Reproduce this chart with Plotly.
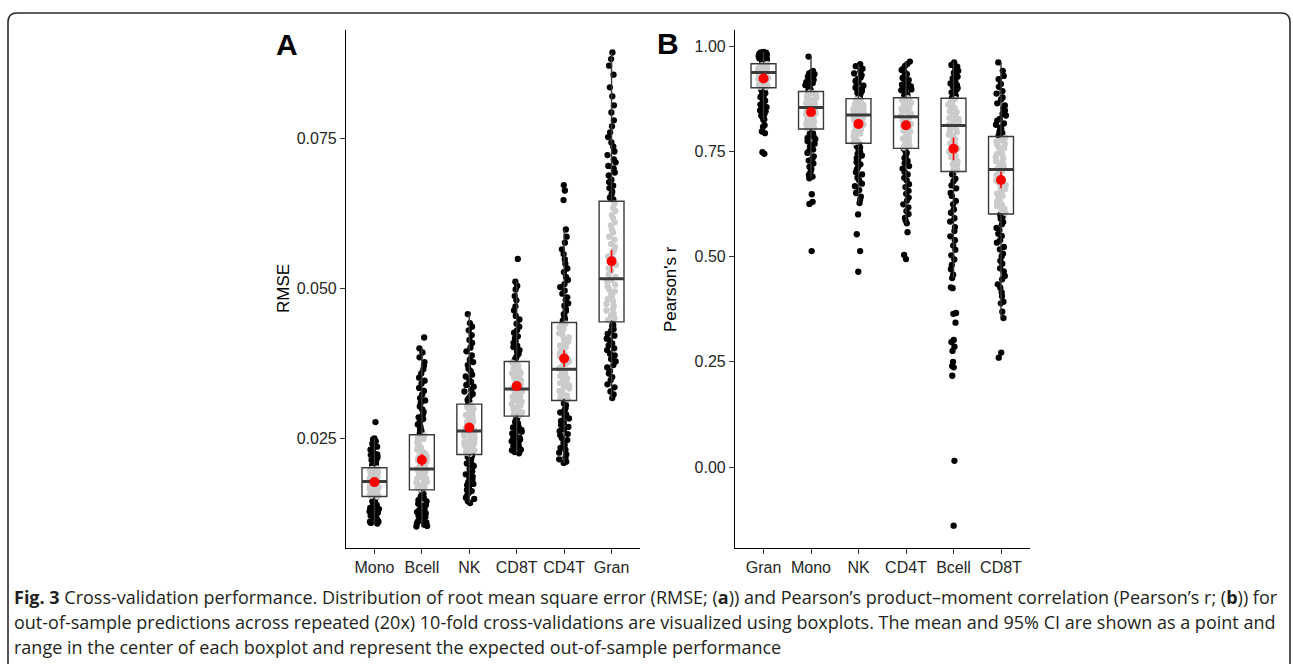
import plotly.graph_objects as go

W, H = 1293, 664

# ---------------- Panel A : RMSE ----------------
cats_a = ["Mono", "Bcell", "NK", "CD8T", "CD4T", "Gran"]
q1_a = [0.0153, 0.0164, 0.0223, 0.0287, 0.0313, 0.0444]
med_a = [0.0178, 0.0199, 0.0262, 0.0332, 0.0365, 0.0516]
q3_a = [0.0201, 0.0256, 0.0307, 0.0378, 0.0443, 0.0645]
lo_a = [0.0108, 0.0103, 0.0142, 0.0225, 0.0209, 0.0317]
hi_a = [0.0250, 0.0400, 0.0457, 0.0511, 0.0598, 0.0893]
mean_a = [0.0177, 0.0214, 0.0268, 0.0337, 0.0383, 0.0545]
ci_a = [0.0003, 0.0010, 0.0007, 0.0007, 0.0014, 0.0019]

mono_a = [0.0108, 0.0109, 0.0111, 0.0111, 0.0113, 0.0115, 0.0116, 0.0119, 0.0120, 0.0121, 0.0123,
          0.0125, 0.0126, 0.0128, 0.0129, 0.0132, 0.0133, 0.0134, 0.0137, 0.0138, 0.0139, 0.0142,
          0.0143, 0.0145, 0.0146, 0.0148, 0.0150, 0.0152, 0.0153, 0.0154, 0.0154, 0.0156, 0.0157,
          0.0158, 0.0158, 0.0160, 0.0161, 0.0163, 0.0163, 0.0164, 0.0165, 0.0166, 0.0168, 0.0169,
          0.0170, 0.0170, 0.0172, 0.0173, 0.0174, 0.0175, 0.0176, 0.0176, 0.0177, 0.0178, 0.0179,
          0.0180, 0.0182, 0.0182, 0.0183, 0.0184, 0.0186, 0.0186, 0.0187, 0.0189, 0.0189, 0.0190,
          0.0192, 0.0193, 0.0194, 0.0195, 0.0196, 0.0198, 0.0199, 0.0200, 0.0202, 0.0203, 0.0205,
          0.0206, 0.0208, 0.0210, 0.0211, 0.0214, 0.0215, 0.0217, 0.0219, 0.0222, 0.0223, 0.0225,
          0.0228, 0.0231, 0.0233, 0.0236, 0.0239, 0.0241, 0.0245, 0.0248, 0.0250, 0.0277]
bcell_a = [0.0103, 0.0104, 0.0106, 0.0108, 0.0110, 0.0111, 0.0113, 0.0116, 0.0117, 0.0119, 0.0121,
           0.0124, 0.0125, 0.0127, 0.0130, 0.0132, 0.0134, 0.0137, 0.0139, 0.0141, 0.0145, 0.0147,
           0.0150, 0.0153, 0.0157, 0.0159, 0.0162, 0.0165, 0.0167, 0.0168, 0.0171, 0.0172, 0.0174,
           0.0176, 0.0177, 0.0179, 0.0182, 0.0183, 0.0184, 0.0187, 0.0188, 0.0190, 0.0193, 0.0194,
           0.0196, 0.0198, 0.0199, 0.0201, 0.0204, 0.0205, 0.0208, 0.0210, 0.0213, 0.0214, 0.0217,
           0.0220, 0.0221, 0.0224, 0.0227, 0.0228, 0.0231, 0.0234, 0.0236, 0.0238, 0.0242, 0.0243,
           0.0246, 0.0249, 0.0251, 0.0253, 0.0255, 0.0258, 0.0262, 0.0264, 0.0267, 0.0271, 0.0273,
           0.0277, 0.0282, 0.0285, 0.0289, 0.0294, 0.0298, 0.0303, 0.0309, 0.0313, 0.0317, 0.0323,
           0.0329, 0.0334, 0.0341, 0.0346, 0.0351, 0.0358, 0.0365, 0.0371, 0.0377, 0.0385, 0.0393,
           0.0400, 0.0418]
nk_a = [0.0142, 0.0145, 0.0149, 0.0151, 0.0155, 0.0159, 0.0162, 0.0164, 0.0168, 0.0172, 0.0174,
        0.0177, 0.0181, 0.0183, 0.0186, 0.0190, 0.0192, 0.0195, 0.0199, 0.0201, 0.0204, 0.0208,
        0.0210, 0.0213, 0.0216, 0.0219, 0.0221, 0.0224, 0.0226, 0.0229, 0.0230, 0.0232, 0.0235,
        0.0236, 0.0238, 0.0240, 0.0242, 0.0243, 0.0245, 0.0248, 0.0249, 0.0250, 0.0253, 0.0254,
        0.0256, 0.0258, 0.0260, 0.0261, 0.0263, 0.0266, 0.0267, 0.0268, 0.0271, 0.0272, 0.0274,
        0.0277, 0.0278, 0.0280, 0.0283, 0.0284, 0.0286, 0.0289, 0.0290, 0.0292, 0.0295, 0.0297,
        0.0299, 0.0302, 0.0303, 0.0305, 0.0308, 0.0312, 0.0314, 0.0317, 0.0321, 0.0324, 0.0328,
        0.0331, 0.0336, 0.0339, 0.0344, 0.0347, 0.0353, 0.0356, 0.0362, 0.0366, 0.0372, 0.0377,
        0.0381, 0.0388, 0.0395, 0.0401, 0.0409, 0.0414, 0.0422, 0.0430, 0.0436, 0.0442, 0.0457]
cd8t_a = [0.0225, 0.0227, 0.0230, 0.0231, 0.0233, 0.0236, 0.0237, 0.0239, 0.0242, 0.0243, 0.0245,
          0.0248, 0.0249, 0.0251, 0.0254, 0.0255, 0.0258, 0.0261, 0.0262, 0.0264, 0.0268, 0.0269,
          0.0272, 0.0275, 0.0277, 0.0280, 0.0283, 0.0286, 0.0289, 0.0290, 0.0293, 0.0295, 0.0296,
          0.0299, 0.0301, 0.0302, 0.0305, 0.0307, 0.0308, 0.0311, 0.0313, 0.0314, 0.0317, 0.0319,
          0.0320, 0.0323, 0.0325, 0.0327, 0.0328, 0.0331, 0.0333, 0.0334, 0.0337, 0.0339, 0.0341,
          0.0342, 0.0345, 0.0347, 0.0349, 0.0350, 0.0353, 0.0355, 0.0358, 0.0359, 0.0362, 0.0364,
          0.0367, 0.0368, 0.0371, 0.0374, 0.0376, 0.0380, 0.0383, 0.0385, 0.0389, 0.0391, 0.0395,
          0.0397, 0.0402, 0.0404, 0.0409, 0.0412, 0.0417, 0.0420, 0.0426, 0.0430, 0.0436, 0.0441,
          0.0448, 0.0454, 0.0463, 0.0470, 0.0480, 0.0487, 0.0498, 0.0504, 0.0511, 0.0549]
cd4t_a = [0.0209, 0.0211, 0.0215, 0.0218, 0.0223, 0.0226, 0.0231, 0.0234, 0.0239, 0.0242, 0.0247,
          0.0250, 0.0255, 0.0257, 0.0262, 0.0265, 0.0269, 0.0272, 0.0276, 0.0279, 0.0283, 0.0286,
          0.0290, 0.0293, 0.0297, 0.0300, 0.0305, 0.0308, 0.0312, 0.0315, 0.0317, 0.0321, 0.0323,
          0.0327, 0.0329, 0.0333, 0.0336, 0.0338, 0.0342, 0.0344, 0.0348, 0.0350, 0.0354, 0.0357,
          0.0359, 0.0363, 0.0366, 0.0368, 0.0372, 0.0374, 0.0378, 0.0381, 0.0383, 0.0387, 0.0390,
          0.0392, 0.0396, 0.0399, 0.0402, 0.0405, 0.0409, 0.0411, 0.0415, 0.0418, 0.0422, 0.0425,
          0.0428, 0.0432, 0.0435, 0.0438, 0.0441, 0.0446, 0.0449, 0.0454, 0.0457, 0.0462, 0.0466,
          0.0471, 0.0475, 0.0481, 0.0485, 0.0491, 0.0496, 0.0502, 0.0507, 0.0514, 0.0519, 0.0527,
          0.0533, 0.0541, 0.0548, 0.0557, 0.0565, 0.0576, 0.0586, 0.0598, 0.0647, 0.0663, 0.0672]
gran_a = [0.0317, 0.0323, 0.0328, 0.0335, 0.0340, 0.0347, 0.0352, 0.0358, 0.0362, 0.0368, 0.0372,
          0.0378, 0.0382, 0.0388, 0.0391, 0.0397, 0.0400, 0.0405, 0.0408, 0.0413, 0.0416, 0.0421,
          0.0424, 0.0429, 0.0432, 0.0437, 0.0439, 0.0442, 0.0447, 0.0450, 0.0455, 0.0458, 0.0463,
          0.0466, 0.0471, 0.0474, 0.0479, 0.0482, 0.0487, 0.0490, 0.0495, 0.0498, 0.0503, 0.0506,
          0.0511, 0.0514, 0.0519, 0.0523, 0.0529, 0.0533, 0.0539, 0.0543, 0.0549, 0.0553, 0.0559,
          0.0563, 0.0569, 0.0574, 0.0581, 0.0586, 0.0593, 0.0598, 0.0605, 0.0610, 0.0617, 0.0622,
          0.0629, 0.0634, 0.0641, 0.0648, 0.0651, 0.0657, 0.0661, 0.0667, 0.0671, 0.0677, 0.0681,
          0.0688, 0.0693, 0.0700, 0.0704, 0.0710, 0.0715, 0.0722, 0.0728, 0.0736, 0.0743, 0.0752,
          0.0760, 0.0770, 0.0780, 0.0793, 0.0805, 0.0820, 0.0835, 0.0856, 0.0871, 0.0882, 0.0893]
points_a = [mono_a, bcell_a, nk_a, cd8t_a, cd4t_a, gran_a]

# ---------------- Panel B : Pearson's r ----------------
cats_b = ["Gran", "Mono", "NK", "CD4T", "Bcell", "CD8T"]
q1_b = [0.901, 0.803, 0.769, 0.757, 0.702, 0.601]
med_b = [0.937, 0.854, 0.836, 0.832, 0.811, 0.707]
q3_b = [0.958, 0.892, 0.875, 0.877, 0.876, 0.785]
lo_b = [0.824, 0.686, 0.627, 0.579, 0.449, 0.354]
hi_b = [0.986, 0.975, 0.957, 0.963, 0.961, 0.961]
mean_b = [0.923, 0.843, 0.815, 0.812, 0.756, 0.682]
ci_b = [0.006, 0.008, 0.010, 0.010, 0.027, 0.020]

gran_b = [0.744, 0.748, 0.793, 0.797, 0.808, 0.812, 0.824, 0.826, 0.831, 0.835, 0.838, 0.840,
          0.845, 0.847, 0.851, 0.855, 0.857, 0.861, 0.863, 0.866, 0.870, 0.872, 0.875, 0.879,
          0.881, 0.884, 0.888, 0.889, 0.892, 0.895, 0.897, 0.899, 0.902, 0.903, 0.905, 0.907,
          0.908, 0.909, 0.911, 0.913, 0.914, 0.915, 0.918, 0.918, 0.920, 0.922, 0.923, 0.924,
          0.926, 0.928, 0.929, 0.930, 0.933, 0.933, 0.935, 0.937, 0.938, 0.939, 0.941, 0.942,
          0.943, 0.945, 0.946, 0.947, 0.949, 0.950, 0.951, 0.953, 0.954, 0.955, 0.957, 0.959,
          0.961, 0.962, 0.964, 0.966, 0.967, 0.968, 0.971, 0.971, 0.973, 0.975, 0.976, 0.977,
          0.980, 0.980, 0.982, 0.984, 0.985, 0.986]
mono_b = [0.513, 0.625, 0.630, 0.648, 0.686, 0.690, 0.694, 0.702, 0.708, 0.713, 0.721, 0.728,
          0.733, 0.738, 0.746, 0.750, 0.754, 0.761, 0.765, 0.768, 0.774, 0.779, 0.782, 0.786,
          0.791, 0.793, 0.797, 0.800, 0.805, 0.806, 0.810, 0.813, 0.815, 0.818, 0.820, 0.823,
          0.825, 0.827, 0.830, 0.832, 0.834, 0.837, 0.839, 0.841, 0.844, 0.846, 0.848, 0.851,
          0.852, 0.854, 0.857, 0.858, 0.860, 0.863, 0.864, 0.866, 0.869, 0.870, 0.872, 0.875,
          0.876, 0.878, 0.881, 0.882, 0.884, 0.887, 0.888, 0.890, 0.894, 0.896, 0.899, 0.902,
          0.904, 0.907, 0.909, 0.912, 0.914, 0.918, 0.920, 0.923, 0.927, 0.929, 0.933, 0.935,
          0.938, 0.941, 0.975]
nk_b = [0.464, 0.513, 0.553, 0.600, 0.627, 0.635, 0.642, 0.651, 0.658, 0.667, 0.673, 0.681,
        0.687, 0.695, 0.700, 0.707, 0.712, 0.719, 0.724, 0.730, 0.734, 0.740, 0.744, 0.750,
        0.754, 0.759, 0.762, 0.767, 0.771, 0.773, 0.777, 0.780, 0.784, 0.786, 0.790, 0.792,
        0.796, 0.798, 0.802, 0.804, 0.808, 0.810, 0.813, 0.815, 0.819, 0.821, 0.824, 0.826,
        0.830, 0.831, 0.835, 0.836, 0.840, 0.841, 0.845, 0.846, 0.850, 0.851, 0.855, 0.856,
        0.860, 0.861, 0.865, 0.866, 0.870, 0.871, 0.874, 0.877, 0.881, 0.883, 0.887, 0.889,
        0.893, 0.895, 0.899, 0.901, 0.906, 0.909, 0.914, 0.917, 0.922, 0.925, 0.931, 0.935,
        0.941, 0.946, 0.952, 0.957]
cd4t_b = [0.494, 0.504, 0.558, 0.579, 0.586, 0.592, 0.601, 0.608, 0.617, 0.624, 0.633, 0.640,
          0.649, 0.656, 0.665, 0.672, 0.681, 0.687, 0.695, 0.701, 0.709, 0.715, 0.722, 0.727,
          0.734, 0.739, 0.746, 0.750, 0.756, 0.759, 0.763, 0.766, 0.770, 0.773, 0.777, 0.780,
          0.784, 0.786, 0.791, 0.793, 0.797, 0.799, 0.803, 0.805, 0.809, 0.811, 0.815, 0.817,
          0.821, 0.823, 0.827, 0.829, 0.832, 0.834, 0.838, 0.840, 0.844, 0.845, 0.849, 0.851,
          0.855, 0.856, 0.860, 0.862, 0.865, 0.867, 0.871, 0.872, 0.876, 0.879, 0.883, 0.885,
          0.889, 0.891, 0.895, 0.897, 0.901, 0.904, 0.908, 0.911, 0.916, 0.919, 0.924, 0.927,
          0.933, 0.937, 0.943, 0.947, 0.953, 0.957, 0.963]
bcell_b = [-0.139, 0.015, 0.217, 0.237, 0.240, 0.250, 0.276, 0.286, 0.297, 0.302, 0.343, 0.364,
           0.366, 0.425, 0.427, 0.449, 0.457, 0.470, 0.480, 0.493, 0.503, 0.516, 0.526, 0.539,
           0.548, 0.561, 0.570, 0.583, 0.591, 0.604, 0.612, 0.624, 0.632, 0.644, 0.651, 0.662,
           0.669, 0.679, 0.685, 0.695, 0.699, 0.705, 0.709, 0.716, 0.719, 0.726, 0.729, 0.736,
           0.739, 0.746, 0.749, 0.756, 0.759, 0.766, 0.769, 0.776, 0.779, 0.786, 0.789, 0.795,
           0.797, 0.803, 0.805, 0.811, 0.813, 0.819, 0.821, 0.827, 0.829, 0.835, 0.837, 0.843,
           0.845, 0.851, 0.853, 0.859, 0.861, 0.867, 0.869, 0.874, 0.878, 0.882, 0.884, 0.888,
           0.890, 0.894, 0.896, 0.900, 0.903, 0.907, 0.911, 0.915, 0.919, 0.923, 0.927, 0.931,
           0.936, 0.941, 0.946, 0.951, 0.955, 0.961]
cd8t_b = [0.260, 0.272, 0.354, 0.369, 0.389, 0.393, 0.406, 0.415, 0.426, 0.434, 0.446, 0.454,
          0.465, 0.472, 0.483, 0.490, 0.501, 0.507, 0.517, 0.523, 0.533, 0.539, 0.549, 0.554,
          0.563, 0.568, 0.577, 0.582, 0.590, 0.594, 0.599, 0.604, 0.610, 0.614, 0.620, 0.624,
          0.630, 0.634, 0.640, 0.644, 0.650, 0.653, 0.660, 0.663, 0.670, 0.673, 0.680, 0.683,
          0.690, 0.693, 0.700, 0.703, 0.710, 0.712, 0.718, 0.720, 0.726, 0.728, 0.734, 0.736,
          0.742, 0.744, 0.750, 0.752, 0.758, 0.760, 0.766, 0.768, 0.774, 0.776, 0.782, 0.788,
          0.793, 0.797, 0.803, 0.806, 0.813, 0.816, 0.823, 0.827, 0.835, 0.839, 0.847, 0.851,
          0.859, 0.864, 0.873, 0.878, 0.887, 0.893, 0.903, 0.910, 0.921, 0.929, 0.941, 0.961]
points_b = [gran_b, mono_b, nk_b, cd4t_b, bcell_b, cd8t_b]

caption_lines = [
    "<b>Fig. 3</b> Cross-validation performance. Distribution of root mean square error (RMSE; (<b>a</b>)) "
    "and Pearson\u2019s product\u2013moment correlation (Pearson\u2019s r; (<b>b</b>)) for",
    "out-of-sample predictions across repeated (20x) 10-fold cross-validations are visualized using "
    "boxplots. The mean and 95% CI are shown as a point and",
    "range in the center of each boxplot and represent the expected out-of-sample performance",
]

# ---------------- figure ----------------
fig = go.Figure()

BOX_LINE = "#3a3a3a"
GREY_PT = "#cbcbcb"


def add_panel(cats, q1, med, q3, lo, hi, mean, ci, pts, xa, ya):
    inside_x, inside_y, outside_x, outside_y = [], [], [], []
    for c, a, b, vals in zip(cats, q1, q3, pts):
        for v in vals:
            if a <= v <= b:
                inside_x.append(c)
                inside_y.append(v)
            else:
                outside_x.append(c)
                outside_y.append(v)
    common = dict(boxpoints="all", jitter=0.45, pointpos=0, line=dict(width=0),
                  whiskerwidth=0, fillcolor="rgba(0,0,0,0)", xaxis=xa, yaxis=ya,
                  showlegend=False, hoverinfo="y")
    fig.add_trace(go.Box(x=outside_x, y=outside_y, marker=dict(color="black", size=6.3),
                         **common))
    fig.add_trace(go.Box(x=inside_x, y=inside_y, marker=dict(color=GREY_PT, size=6.3),
                         **common))
    # box outline
    fig.add_trace(go.Box(x=cats, q1=q1, median=med, q3=q3, lowerfence=lo, upperfence=hi,
                         boxpoints=False, whiskerwidth=0, fillcolor="rgba(0,0,0,0)",
                         line=dict(color=BOX_LINE, width=1.4), xaxis=xa, yaxis=ya,
                         showlegend=False))
    # thick median line
    fig.add_trace(go.Box(x=cats, q1=med, median=med, q3=med, lowerfence=med, upperfence=med,
                         boxpoints=False, whiskerwidth=0, fillcolor="rgba(0,0,0,0)",
                         line=dict(color=BOX_LINE, width=3), xaxis=xa, yaxis=ya,
                         showlegend=False))
    # mean and 95% CI
    fig.add_trace(go.Scatter(x=cats, y=mean, mode="markers",
                             marker=dict(color="#ff0000", size=10),
                             error_y=dict(type="data", array=ci, color="#ff0000",
                                          thickness=1.6, width=0),
                             xaxis=xa, yaxis=ya, showlegend=False))


add_panel(cats_a, q1_a, med_a, q3_a, lo_a, hi_a, mean_a, ci_a, points_a, "x", "y")
add_panel(cats_b, q1_b, med_b, q3_b, lo_b, hi_b, mean_b, ci_b, points_b, "x2", "y2")


def px_x(p):
    return p / W


def px_y(p):
    return 1 - p / H


TICK_FONT = dict(family="Liberation Sans, Arial, sans-serif", size=16, color="#262626")
axis_common = dict(showline=True, linecolor="black", linewidth=1.1, ticks="outside", ticklen=5,
                   tickcolor="#333333", tickwidth=1.1, showgrid=False, zeroline=False,
                   tickfont=TICK_FONT, mirror=False)

fig.update_layout(
    width=W, height=H,
    margin=dict(l=0, r=0, t=0, b=0),
    paper_bgcolor="white", plot_bgcolor="white",
    boxmode="overlay", boxgap=0.25,
    xaxis=dict(domain=[px_x(346), px_x(640)], anchor="y", type="category",
               categoryorder="array", categoryarray=cats_a, range=[-0.6, 5.6], **axis_common),
    yaxis=dict(domain=[px_y(548), px_y(30)], anchor="x", range=[0.00672, 0.09305],
               tickvals=[0.025, 0.05, 0.075], tickformat=".3f", **axis_common),
    xaxis2=dict(domain=[px_x(735), px_x(1029.5)], anchor="y2", type="category",
                categoryorder="array", categoryarray=cats_b, range=[-0.6, 5.6], **axis_common),
    yaxis2=dict(domain=[px_y(548), px_y(30)], anchor="x2", range=[-0.192, 1.038],
                tickvals=[0, 0.25, 0.5, 0.75, 1.0], tickformat=".2f", **axis_common),
)

annots = [
    dict(text="RMSE", x=px_x(283), y=px_y(289), textangle=-90,
         font=dict(family="Liberation Sans, Arial, sans-serif", size=17, color="black")),
    dict(text="Pearson's r", x=px_x(670), y=px_y(289), textangle=-90,
         font=dict(family="Liberation Sans, Arial, sans-serif", size=17, color="black")),
    dict(text="<b>A</b>", x=px_x(287), y=px_y(44),
         font=dict(family="Liberation Sans, Arial, sans-serif", size=30, color="black")),
    dict(text="<b>B</b>", x=px_x(668), y=px_y(43),
         font=dict(family="Liberation Sans, Arial, sans-serif", size=30, color="black")),
]
for a in annots:
    a.update(xref="paper", yref="paper", showarrow=False, xanchor="center", yanchor="middle")
    fig.add_annotation(**a)

for i, line in enumerate(caption_lines):
    fig.add_annotation(text=line, x=px_x(12), y=px_y(597 + 25 * i), xref="paper", yref="paper",
                       showarrow=False, xanchor="left", yanchor="middle",
                       font=dict(family="Open Sans, sans-serif", size=18, color="#231f20"))

# rounded frame around the figure
L, T, R, B, r = px_x(8), px_y(13), px_x(1290), px_y(690), 9
rx, ry = r / W, r / H
path = (f"M {L},{B} L {L},{T - ry} Q {L},{T} {L + rx},{T} "
        f"L {R - rx},{T} Q {R},{T} {R},{T - ry} L {R},{B}")
fig.add_shape(type="path", path=path, xref="paper", yref="paper",
              line=dict(color="#2b2b2b", width=1.6))

fig.write_html("out.html",
               config={"displayModeBar": False},
               post_script="document.body.style.margin='0px';"
                           "document.body.style.overflow='hidden';")
